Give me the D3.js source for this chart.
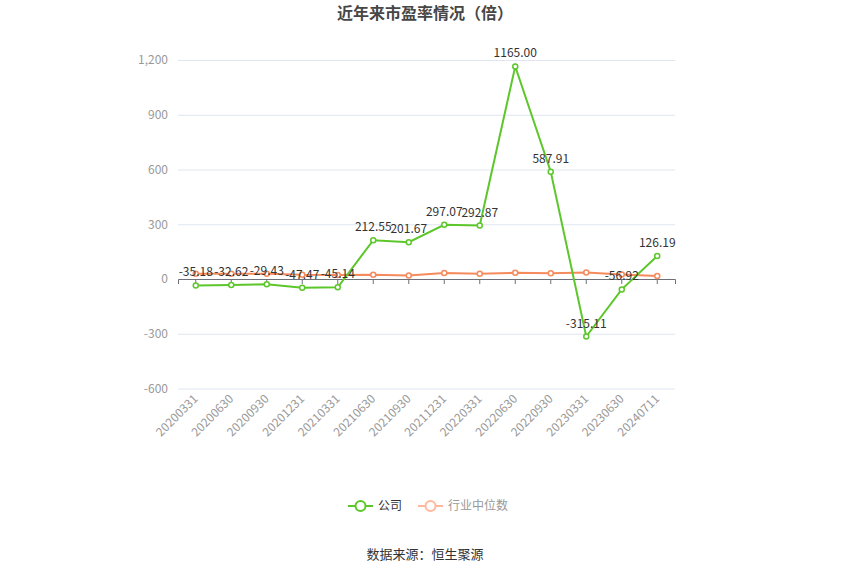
<!DOCTYPE html>
<html>
<head>
<meta charset="utf-8">
<script src="https://cdn.jsdelivr.net/npm/d3@7"></script>
<style>
  body { margin: 0; background: #fff; }
  text { font-family: "Noto Sans CJK SC", "Noto Sans", sans-serif; }
</style>
</head>
<body>
<div id="chart"></div>
<script>
// PE ratio chart: company vs industry median

const categories = ['20200331','20200630','20200930','20201231','20210331','20210630','20210930',
                    '20211231','20220331','20220630','20220930','20230331','20230630','20240711'];
const companyPE  = [-35.18, -32.62, -29.43, -47.47, -45.14, 212.55, 201.67, 297.07, 292.87, 1165.00, 587.91, -315.11, -56.92, 126.19];
const industryPE = [29, 29, 29, 23, 22, 23, 19, 33, 29, 34, 31, 36, 25, 16];
const yTicks     = [-600, -300, 0, 300, 600, 900, 1200];
const seriesNames = ['公司', '行业中位数'];

const W = 850, H = 575;
const margin = { top: 60, right: 175, bottom: 186.5, left: 178 };
const green = '#5cc72a', orange = '#f58a5c';

const svg = d3.select('#chart').append('svg')
              .attr('width', W).attr('height', H);

const x = d3.scaleBand()
            .domain(categories)
            .range([margin.left, W - margin.right]);

const y = d3.scaleLinear()
            .domain([-600, 1200])
            .range([H - margin.bottom, margin.top]);

// --- Title ---
svg.append('text')
   .attr('x', W / 2).attr('y', 19)
   .attr('text-anchor', 'middle')
   .style('font-size', '16px').style('font-weight', 'bold').style('fill', '#464646')
   .text('近年来市盈率情况（倍）');

// --- Grid + y labels ---
const yAxis = svg.append('g')
   .attr('transform', 'translate(' + margin.left + ',0)')
   .call(d3.axisLeft(y).tickValues(yTicks).tickSize(-(W - margin.right - margin.left)).tickPadding(10)
           .tickFormat(d => d3.format(',')(d).replace('−', '-')));
yAxis.select('.domain').remove();
yAxis.selectAll('.tick line').attr('stroke', '#e0e6f1');
yAxis.selectAll('.tick text').style('fill', '#999').style('font-size', '12px');

// --- X axis at zero ---
const xAxis = svg.append('g')
   .attr('transform', 'translate(0,' + y(0) + ')')
   .call(d3.axisBottom(x).tickSize(5).tickFormat(''));
xAxis.select('.domain').attr('stroke', '#6e7079');
xAxis.selectAll('.tick line').attr('stroke', '#6e7079');

// rotated category labels at bottom
svg.append('g').selectAll('text')
   .data(categories)
   .enter()
   .append('text')
   .attr('transform', d => 'translate(' + (x(d) + x.bandwidth() / 2) + ',' + (y(-600) + 8) + ') rotate(-45)')
   .attr('text-anchor', 'end')
   .attr('dy', '0.35em')
   .style('font-size', '12px').style('fill', '#999')
   .text(d => d);

const cx = d => x(d) + x.bandwidth() / 2;

function drawSeries(values, color)
{
  const line = d3.line()
                 .x((d, i) => cx(categories[i]))
                 .y(d => y(d));
  svg.append('path')
     .datum(values)
     .attr('d', line)
     .attr('fill', 'none')
     .attr('stroke', color)
     .attr('stroke-width', 2);
  svg.append('g').selectAll('circle')
     .data(values)
     .enter()
     .append('circle')
     .attr('cx', (d, i) => cx(categories[i]))
     .attr('cy', d => y(d))
     .attr('r', 2.5)
     .attr('fill', '#fff')
     .attr('stroke', color)
     .attr('stroke-width', 1.5);
}

drawSeries(industryPE, orange);
drawSeries(companyPE, green);

// value labels for company series
svg.append('g').selectAll('text')
   .data(companyPE)
   .enter()
   .append('text')
   .attr('x', (d, i) => cx(categories[i]))
   .attr('y', d => y(d) - 9)
   .attr('text-anchor', 'middle')
   .style('font-size', '12px').style('fill', '#333')
   .text(d => d.toFixed(2));

// --- Legend ---
const legend = svg.append('g').attr('transform', 'translate(348,506)');
const legendItems = [
  { name: seriesNames[0], color: green, text: '#333', x: 0 },
  { name: seriesNames[1], color: '#ffb89c', text: '#999', x: 70 }
];
legendItems.forEach(it => {
  const g = legend.append('g').attr('transform', 'translate(' + it.x + ',0)');
  g.append('line').attr('x1', 0).attr('x2', 25).attr('y1', 0).attr('y2', 0)
   .attr('stroke', it.color).attr('stroke-width', 2);
  g.append('circle').attr('cx', 12.5).attr('cy', 0).attr('r', 5)
   .attr('fill', '#fff').attr('stroke', it.color).attr('stroke-width', 2);
  g.append('text').attr('x', 30).attr('y', 0).attr('dy', '0.35em')
   .style('font-size', '12px').style('fill', it.text).text(it.name);
});

// --- Source ---
svg.append('text')
   .attr('x', W / 2).attr('y', 559)
   .attr('text-anchor', 'middle')
   .style('font-size', '13px').style('fill', '#333')
   .text('数据来源：恒生聚源');
</script>
</body>
</html>
